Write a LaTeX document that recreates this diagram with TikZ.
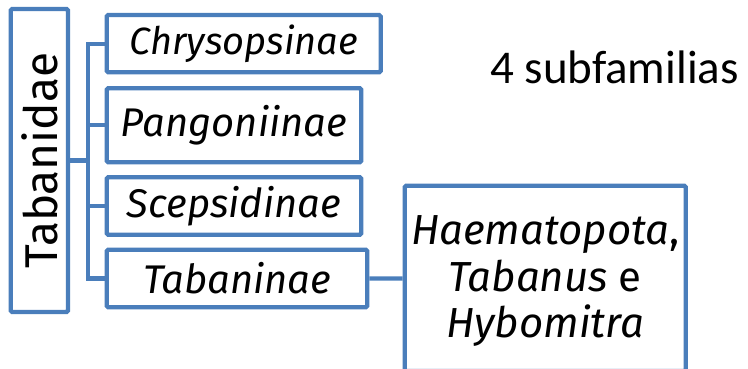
\documentclass[tikz,border=0pt]{standalone}
\usepackage{fontspec}
\setmainfont{Fira Sans}
\newfontfamily\calib{Carlito}
\definecolor{boxblue}{HTML}{4A7EBB}
\begin{document}
\begin{tikzpicture}[x=1pt,y=1pt,
  bx/.style={draw=boxblue,line width=4.3pt,rounded corners=1.5pt,inner sep=0pt,fill=white},
  conn/.style={draw=boxblue,line width=4.3pt,line join=miter},
  lab/.style={font=\fontsize{40}{46}\selectfont\itshape}]
\useasboundingbox (0,0) rectangle (748,368);
\clip (0,0) rectangle (748,368);
\node[bx,minimum width=57.3pt,minimum height=303pt] (tab) at (39.35,207.5) {};
\node[rotate=90,font=\fontsize{46}{50}\selectfont] (tabl) at (tab.center) {Tabanidae};
\node[bx,minimum width=274pt,minimum height=57.3pt,lab,font=\fontsize{38}{44}\selectfont\itshape] (c1) at (243.7,324.35) {Chrysopsinae};
\node[bx,minimum width=254.6pt,minimum height=74pt,lab] (c2) at (234,242.7) {Pangoniinae};
\node[bx,minimum width=254.6pt,minimum height=57.4pt,lab] (c3) at (234,162) {Scepsidinae};
\node[bx,minimum width=260.6pt,minimum height=57.6pt,lab] (c4) at (237,89.5) {Tabaninae};
\node[bx,minimum width=281.1pt,minimum height=185.2pt] (gen) at (545.25,89.6) {};
\node[align=center,inner sep=0pt,font=\fontsize{42}{46.5}\selectfont,yshift=-3pt] (genl) at (gen.center)
  {\textit{Haematopota},\\\textit{Tabanus} e\\\textit{Hybomitra}};
\node[anchor=base west,inner sep=0pt,font=\calib\fontsize{47}{50}\selectfont] (sub) at (490,285) {4 subfamilias};
\coordinate (spine) at (88.3,0);
\draw[conn] (tab.east) -- (tab.east -| spine);
\draw[conn] (c1.west) -- (c1.west -| spine) -- (c4.west -| spine) -- (c4.west);
\draw[conn] (c2.west) -- (c2.west -| spine);
\draw[conn] (c3.west) -- (c3.west -| spine);
\draw[conn] (c4.east) -- (gen.west);
\end{tikzpicture}
\end{document}
